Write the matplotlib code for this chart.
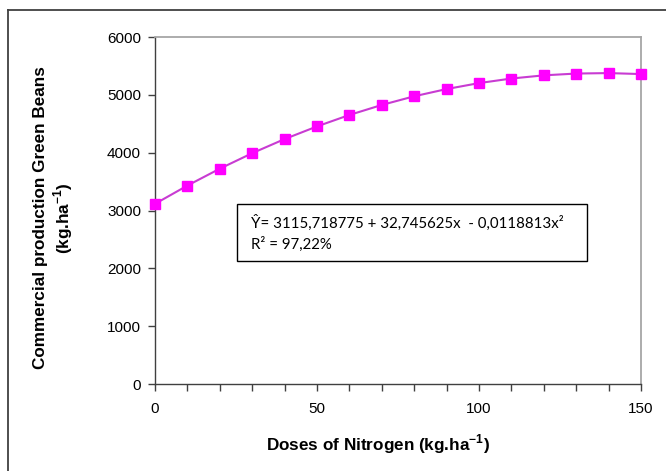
import matplotlib
matplotlib.use("Agg")
import matplotlib.pyplot as plt
from matplotlib.lines import Line2D
from matplotlib.patches import Rectangle

plt.rcParams['font.family'] = ['Liberation Sans', 'DejaVu Sans']
plt.rcParams['mathtext.fontset'] = 'custom'
plt.rcParams['mathtext.rm'] = 'Liberation Sans'
plt.rcParams['mathtext.bf'] = 'Liberation Sans:bold'

# Data
doses = [0, 10, 20, 30, 40, 50, 60, 70, 80, 90, 100, 110, 120, 130, 140, 150]
production = [3115, 3431, 3723, 3991, 4235, 4454, 4652, 4825, 4975, 5100,
              5203, 5282, 5337, 5368, 5376, 5359]
x_major = [0, 50, 100, 150]
y_major = [0, 1000, 2000, 3000, 4000, 5000, 6000]
equation = "Ŷ= 3115,718775 + 32,745625x  - 0,0118813x²"
r2_text = "R² = 97,22%"

W, H = 666, 471
fig = plt.figure(figsize=(W / 100, H / 100), dpi=100)
fig.patch.set_facecolor('white')

# outer frame (left and top edges visible)
fig.add_artist(Line2D([8 / W, 8 / W], [0, 1 - 10 / H], transform=fig.transFigure,
                      color='#404040', lw=1.3))
fig.add_artist(Line2D([8 / W, 1], [1 - 10 / H, 1 - 10 / H], transform=fig.transFigure,
                      color='#404040', lw=1.3))

left, right, top, bottom = 155, 641, 37, 384
ax = fig.add_axes([left / W, 1 - bottom / H, (right - left) / W, (bottom - top) / H])

ax.plot(doses, production, color='#c83cd2', lw=1.5, zorder=2, clip_on=False)
ax.plot(doses, production, linestyle='none', marker='s', markersize=6.5,
        color='#ff00ff', markeredgecolor='#ff00ff', zorder=3, clip_on=False)

ax.set_xlim(0, 150)
ax.set_ylim(0, 6000)
ax.set_xticks(x_major)
ax.set_xticks(doses, minor=True)
ax.set_yticks(y_major)

for side in ['left', 'bottom']:
    ax.spines[side].set_color('#404040')
    ax.spines[side].set_linewidth(1.0)
for side in ['top', 'right']:
    ax.spines[side].set_color('#a6a6a6')
    ax.spines[side].set_linewidth(1.3)

ax.tick_params(axis='both', which='both', direction='out', length=5, width=1.0,
               color='#404040', labelsize=11, labelcolor='#000000')
ax.tick_params(axis='x', which='major', pad=8)
ax.tick_params(axis='y', which='major', pad=5)

# equation box
fig.add_artist(Rectangle((237 / W, 1 - 261 / H), 350 / W, 57 / H,
                         transform=fig.transFigure, fill=False,
                         edgecolor='#000000', lw=1.0))
fig.text(251 / W, 1 - 223 / H, equation, fontsize=10.8, family=['Lato', 'DejaVu Sans'],
         va='center', ha='left', color='#000000')
fig.text(251 / W, 1 - 244 / H, r2_text, fontsize=10.8, family=['Lato', 'DejaVu Sans'],
         va='center', ha='left', color='#000000')

# axis titles
fig.text(378 / W, 1 - 444 / H, r'Doses of Nitrogen (kg.ha$^{\mathbf{-1}}$)',
         fontsize=12.3, fontweight='bold', ha='center', va='center')
fig.text(54 / W, 1 - 218 / H,
         'Commercial production Green Beans\n' + r'(kg.ha$^{\mathbf{-1}}$)',
         fontsize=12.3, fontweight='bold', ha='center', va='center', rotation=90,
         multialignment='center', linespacing=1.15)

fig.savefig('out.png', dpi=100)
